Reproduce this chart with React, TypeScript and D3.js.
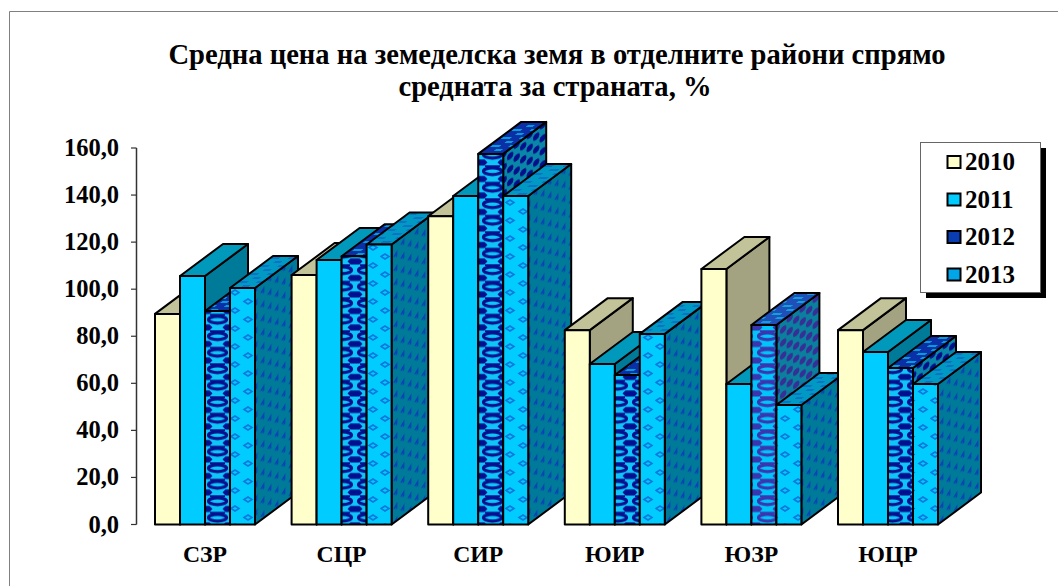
import React from "react";
import * as d3 from "d3";

const categories = ["СЗР", "СЦР", "СИР", "ЮИР", "ЮЗР", "ЮЦР"];
const years = ["2010", "2011", "2012", "2013"];
const v2010 = [89.5, 106, 131, 82.6, 108.6, 82.6];
const v2011 = [105.6, 112.4, 139.6, 68.2, 59.7, 73.3];
const v2012 = [90.7, 114, 157.5, 63.5, 84.8, 66.5];
const v2013 = [100.5, 119, 139.6, 81, 50.8, 59.7];
const seriesValues = [v2010, v2011, v2012, v2013];
const yTicks = [0, 20, 40, 60, 80, 100, 120, 140, 160];

const y = d3.scaleLinear().domain([0, 160]).range([524.5, 148]);
const xGroup = d3.scaleBand<string>().domain(categories).range([155, 155 + 136.6 * 6]).paddingInner(0).paddingOuter(0).align(0);
const xBar = d3.scaleBand<string>().domain(years).range([0, 100]);
const dx = 43;
const dy = -32;
const serif = "'Liberation Serif', 'Times New Roman', serif";

const fills = [
  { front: "#ffffcc", top: "#c3c39a", side: "#a3a382" },
  { front: "#00ccff", top: "#0099bb", side: "#007a99" },
  { front: "url(#pF)", top: "url(#pT)", side: "url(#pS)" },
  { front: "url(#qF)", top: "url(#qT)", side: "url(#qS)" },
];
const fadedBar = { front: "url(#rF)", top: "url(#rT)", side: "url(#rS)" };

function Patterns() {
  const chain = (id: string, bg: string, fg: string) => (
    <pattern id={id} width="25" height="16.5" patternUnits="userSpaceOnUse" x="5" y="2">
      <rect width="25" height="16.5" fill={bg} />
      <ellipse cx="12.5" cy="4.2" rx="9" ry="3.4" fill="none" stroke={fg} strokeWidth="3.2" />
      <path d="M0 9h4.5l3 3l-3 3H0ZM25 9h-4.5l-3 3l3 3H25Z" fill={fg} />
      <rect x="5" y="14.8" width="15" height="1.7" fill={fg} />
    </pattern>
  );
  const checker = (id: string, bg: string, fg: string) => (
    <pattern id={id} width="13" height="13" patternUnits="userSpaceOnUse" patternTransform="skewY(-36.7)">
      <rect width="13" height="13" fill={bg} />
      <circle cx="3.2" cy="3.2" r="3.2" fill={fg} />
      <circle cx="9.7" cy="9.7" r="3.2" fill={fg} />
    </pattern>
  );
  const ticks = (id: string, bg: string, fg: string) => (
    <pattern id={id} width="14" height="14" patternUnits="userSpaceOnUse" patternTransform="skewY(-36.7)">
      <rect width="14" height="14" fill={bg} />
      <path d="M2 4.5l2.5 -2.5v4.5M9 11.5l2.5 -2.5v4.5" fill="none" stroke={fg} strokeWidth="1.8" />
    </pattern>
  );
  const diamond = (id: string, bg: string, fg: string) => (
    <pattern id={id} width="25" height="18" patternUnits="userSpaceOnUse" x="5">
      <rect width="25" height="18" fill={bg} />
      <path d="M1 4.5l4 -2.5l4 2.5l-4 2.5ZM14 13.5l4 -2.5l4 2.5l-4 2.5Z" fill={bg} stroke={fg} strokeWidth="1.6" />
    </pattern>
  );
  const stripes = (id: string, bg: string, fg: string) => (
    <pattern id={id} width="18" height="8" patternUnits="userSpaceOnUse" patternTransform="skewX(-53)">
      <rect width="18" height="8" fill={bg} />
      <path d="M1 2h9M10 6h7" stroke={fg} strokeWidth="1.8" />
    </pattern>
  );
  return (
    <defs>
      {chain("pF", "#10c4f8", "#00108f")}
      {stripes("pT", "#0a2fa6", "#009fd8")}
      {checker("pS", "#0a86a8", "#000f8a")}
      {diamond("qF", "#00ccff", "#0b78dc")}
      {stripes("qT", "#0099c4", "#0b72c4")}
      {ticks("qS", "#007a99", "#0a44b4")}
      {chain("rF", "#00c4fa", "#3a35b0")}
      {stripes("rT", "#1f4fb8", "#12a0d8")}
      {checker("rS", "#0a7f9e", "#352f96")}
    </defs>
  );
}

function Bar({ x, w, v, style }: { x: number; w: number; v: number; style: typeof fills[number] }) {
  const t = y(v);
  const b = y(0);
  const common = { stroke: "#000", strokeWidth: 2, strokeLinejoin: "round" as const };
  return (
    <g>
      <path d={`M${x + w} ${t}l${dx} ${dy}V${b + dy}l${-dx} ${-dy}Z`} fill={style.side} {...common} />
      <path d={`M${x} ${t}l${dx} ${dy}h${w}l${-dx} ${-dy}Z`} fill={style.top} {...common} />
      <rect x={x} y={t} width={w} height={b - t} fill={style.front} {...common} />
    </g>
  );
}

export default function App() {
  return (
    <svg
      width={1058}
      height={586}
      style={{ position: "absolute", left: 0, top: 0, background: "#fff" }}
      fontFamily={serif}
      fontWeight="bold"
    >
      <Patterns />
      <path d="M9.5 586V11.5H1058" fill="none" stroke="#808080" strokeWidth="1" />

      <text textAnchor="middle" fontSize="28.6" fill="#000">
        <tspan x="557" y="64">Средна цена на земеделска земя в отделните райони спрямо</tspan>
        <tspan x="555" y="96">средната за страната, %</tspan>
      </text>

      <line x1={136.5} x2={136.5} y1={y(160)} y2={y(0)} stroke="#333" strokeWidth="1.5" />
      {yTicks.map((t) => (
        <g key={t}>
          <line x1={131} x2={136.5} y1={y(t)} y2={y(t)} stroke="#333" strokeWidth="1.2" />
          <text x={119} y={y(t) + 8} textAnchor="end" fontSize="24.5">
            {t.toFixed(1).replace(".", ",")}
          </text>
        </g>
      ))}

      {categories.map((c, i) => (
        <g key={c}>
          {years.map((yr, s) => (
            <Bar
              key={yr}
              x={xGroup(c)! + xBar(yr)!}
              w={xBar.bandwidth()}
              v={seriesValues[s][i]}
              style={c === "ЮЗР" && s === 2 ? fadedBar : fills[s]}
            />
          ))}
        </g>
      ))}

      {categories.map((c) => (
        <text key={c} x={xGroup(c)! + 50} y={562} textAnchor="middle" fontSize="23.7">
          {c}
        </text>
      ))}

      <rect x={926} y={148} width={120} height={150} fill="#000" />
      <rect x={920.5} y={142.5} width={120} height={150} fill="#fff" stroke="#666" strokeWidth="1" />
      {years.map((yr, s) => (
        <g key={yr} transform={`translate(0,${161.5 + s * 37.5})`}>
          <rect x={947.5} y={-5.5} width={13} height={12} fill={s === 0 ? "#ffffcc" : s === 1 ? "#00ccff" : s === 2 ? "#0a3db0" : "#00a6e8"} stroke="#000" strokeWidth="2" />
          <text x={965} y={8.5} fontSize="25">
            {yr}
          </text>
        </g>
      ))}
    </svg>
  );
}
